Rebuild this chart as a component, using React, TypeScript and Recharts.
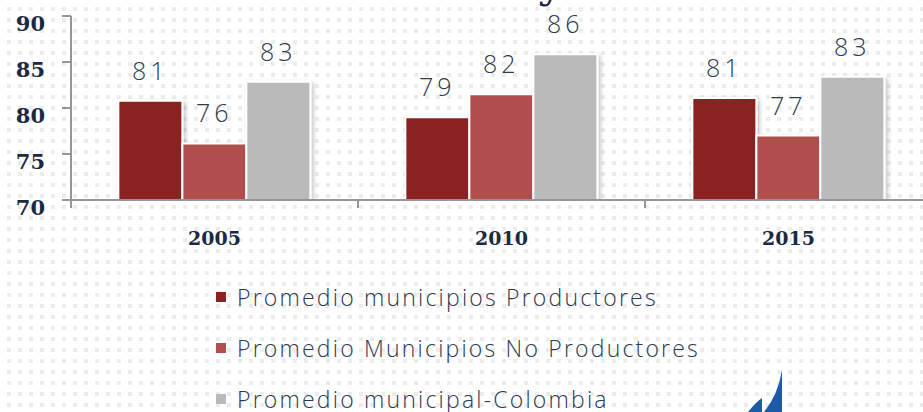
import React from "react";
import { BarChart, Bar, XAxis, YAxis, LabelList } from "recharts";

const categories = ["2005", "2010", "2015"];
const productores = [80.8, 79.0, 81.1];
const noProductores = [76.15, 81.5, 77.0];
const colombia = [82.86, 85.85, 83.4];
const seriesNames = [
  "Promedio municipios Productores",
  "Promedio Municipios No Productores",
  "Promedio municipal-Colombia",
];
const seriesColors = ["#8a2422", "#b15050", "#bababa"];
const yTicks = [70, 75, 80, 85, 90];

const data = categories.map((c, i) => ({
  year: c,
  prod: productores[i],
  noProd: noProductores[i],
  col: colombia[i],
}));

const W = 932;
const H = 252;
const yAxisW = 71;
const halfBand = (W - yAxisW) / categories.length / 2;
const axisColor = "#959595";
const textColor = "#2c3a4f";

const YTick = ({ x, y, payload }: any) => (
  <text
    x={x}
    y={y + 15}
    textAnchor="end"
    fill="#1b2a44"
    fontFamily="'DejaVu Serif', serif"
    fontWeight="bold"
    fontSize={21}
  >
    {payload.value}
  </text>
);

// tick line sits on the category borders, label in the middle
const XTick = ({ x, y, payload }: any) => (
  <g>
    <line x1={x - halfBand} x2={x - halfBand} y1={y} y2={y + 8} stroke={axisColor} strokeWidth={2} />
    <text
      x={x}
      y={y + 45}
      textAnchor="middle"
      fill="#1b2a44"
      fontFamily="'DejaVu Serif', serif"
      fontWeight="bold"
      fontSize={19}
    >
      {payload.value}
    </text>
  </g>
);

const labelStyle = {
  fill: textColor,
  fontSize: 25,
  fontFamily: "'Open Sans', sans-serif",
  fontWeight: 300,
  letterSpacing: 4,
};

const keys = ["prod", "noProd", "col"];

export default function App() {
  return (
    <div
      style={{
        position: "absolute",
        left: 0,
        top: 0,
        width: 923,
        height: 412,
        overflow: "hidden",
        backgroundColor: "#ffffff",
        backgroundImage:
          "linear-gradient(90deg, #fff 7px, transparent 7px), linear-gradient(#fff 7px, #ececec 7px)",
        backgroundSize: "11px 11px",
      }}
    >
      <svg width={0} height={0} style={{ position: "absolute" }}>
        <defs>
          <filter id="barShadow" x="-10%" y="-10%" width="130%" height="130%">
            <feDropShadow dx={2} dy={2} stdDeviation={2} floodColor="#000" floodOpacity={0.25} />
          </filter>
        </defs>
      </svg>
      <svg width={923} height={412} style={{ position: "absolute", left: 0, top: 0 }}>
        <text x={538} y={-2} fontFamily="'DejaVu Serif', serif" fontWeight="bold" fontSize={40} fill="#1b2a44">
          y
        </text>
        <path d="M782 370 L782 412 L764 412 Q778 395 782 370 Z" fill="#1f5aa6" />
        <path d="M762 398 L762 412 L748 412 Q756 402 762 398 Z" fill="#1f5aa6" />
      </svg>
      <div style={{ position: "absolute", left: 0, top: 0 }}>
        <BarChart
          width={W}
          height={H}
          data={data}
          margin={{ top: 16, right: 0, left: 0, bottom: 0 }}
          barCategoryGap="16.5%"
          barGap={0}
        >
          <YAxis
            width={yAxisW}
            domain={[70, 90]}
            ticks={yTicks}
            interval={0}
            allowDataOverflow
            axisLine={{ stroke: axisColor, strokeWidth: 2 }}
            tickLine={{ stroke: axisColor, strokeWidth: 2 }}
            tickSize={9}
            tickMargin={17}
            tick={<YTick />}
          />
          <XAxis
            dataKey="year"
            height={52}
            axisLine={{ stroke: axisColor, strokeWidth: 2 }}
            tickLine={false}
            tickSize={0}
            tickMargin={0}
            interval={0}
            tick={<XTick />}
          />
          {keys.map((k, i) => (
            <Bar
              key={k}
              dataKey={k}
              name={seriesNames[i]}
              fill={seriesColors[i]}
              stroke="#ffffff"
              strokeWidth={2}
              filter="url(#barShadow)"
              isAnimationActive={false}
            >
              <LabelList
                dataKey={k}
                position="top"
                offset={21}
                formatter={(v: any) => Math.round(v)}
                style={labelStyle}
              />
            </Bar>
          ))}
        </BarChart>
      </div>
      <div
        style={{
          position: "absolute",
          left: 216,
          top: 271,
          fontFamily: "'Open Sans', sans-serif",
          fontWeight: 300,
          fontSize: 23,
          letterSpacing: 2.2,
          color: textColor,
        }}
      >
        {seriesNames.map((n, i) => (
          <div key={n} style={{ height: 51, display: "flex", alignItems: "center" }}>
            <span
              style={{
                display: "inline-block",
                width: 10,
                height: 10,
                background: seriesColors[i],
                marginRight: 11,
              }}
            />
            <span>{n}</span>
          </div>
        ))}
      </div>
    </div>
  );
}
